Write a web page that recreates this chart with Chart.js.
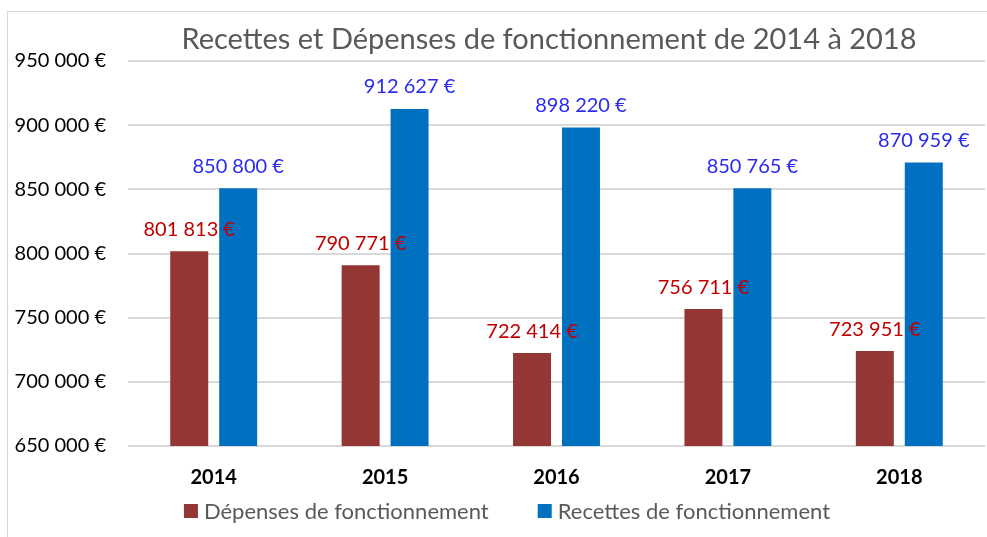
<!DOCTYPE html>
<html>
<head>
<meta charset="utf-8">
<script src="https://cdn.jsdelivr.net/npm/chart.js@4.4.1/dist/chart.umd.min.js"></script>
<style>
  html, body { margin: 0; padding: 0; background: #fff; }
  #wrap { position: relative; width: 987px; height: 537px; overflow: hidden; }
  #frame { position: absolute; left: 7px; top: 11px; width: 1200px; height: 800px; border: 1px solid #d9d9d9; }
  canvas { position: absolute; left: 0; top: 0; }
</style>
</head>
<body>
<div id="wrap">
  <div id="frame"></div>
  <canvas id="myChart" width="987" height="537"></canvas>
</div>
<script>
const years = ['2014', '2015', '2016', '2017', '2018']
const depenses = [801813, 790771, 722414, 756711, 723951]
const recettes = [850800, 912627, 898220, 850765, 870959]
const yMin = 650000
const yMax = 950000
const yStep = 50000
const titleText = 'Recettes et Dépenses de fonctionnement de 2014 à 2018'

const font = 'Lato, "Open Sans", sans-serif'

// 950 000 € style
const euro = v => String(Math.round(v)).replace(/\B(?=(\d{3})+(?!\d))/g, ' ') + ' €'

const labelColors = ['#c00000', '#2a2af0']

// value labels above bars + title + legend, drawn by hand to match Excel spacing
const extras = {
  id: 'extras',
  afterDatasetsDraw: chart => {
    let ctx = chart.ctx
    ctx.save()
    ctx.font = '20px ' + font
    ctx.textAlign = 'center'
    ctx.textBaseline = 'middle'
    chart.data.datasets.forEach((ds, i) => {
      let meta = chart.getDatasetMeta(i)
      meta.data.forEach((bar, j) => {
        ctx.fillStyle = labelColors[i]
        ctx.fillText(euro(ds.data[j]), bar.x, bar.y - 22)
      })
    })

    // title
    ctx.fillStyle = '#595959'
    ctx.font = '29px ' + font
    ctx.fillText(titleText, 549, 40)

    // legend
    ctx.font = '22px ' + font
    ctx.textAlign = 'left'
    let items = chart.data.datasets.map(ds => ({ text: ds.label, color: ds.backgroundColor, w: ctx.measureText(ds.label).width }))
    let total = items.reduce((a, it) => a + 14 + 6 + it.w, 0) + 49 * (items.length - 1)
    let x = 507 - total / 2
    items.forEach(it => {
      ctx.fillStyle = it.color
      ctx.fillRect(x, 504, 14, 14)
      ctx.fillStyle = '#595959'
      ctx.fillText(it.text, x + 20, 512)
      x += 20 + it.w + 49
    })
    ctx.restore()
  }
}

new Chart('myChart', {
  type: 'bar',
  plugins: [extras],
  data: {
    labels: years,
    datasets: [
      {
        label: 'Dépenses de fonctionnement',
        data: depenses,
        backgroundColor: '#943634'
      },
      {
        label: 'Recettes de fonctionnement',
        data: recettes,
        backgroundColor: '#0070c0'
      }
    ]
  },
  options: {
    responsive: false,
    animation: false,
    devicePixelRatio: 1,
    categoryPercentage: 0.571,
    barPercentage: 0.776,
    layout: { padding: { left: 0, right: 2, top: 61, bottom: 35 } },
    plugins: {
      title: { display: false },
      legend: { display: false },
      tooltip: { enabled: false }
    },
    scales: {
      x: {
        grid: { display: false },
        border: { display: false },
        ticks: {
          color: '#000',
          font: { family: font, size: 20, weight: 'bold' },
          padding: 12
        }
      },
      y: {
        min: yMin,
        max: yMax,
        afterFit: s => { s.width = 128 },
        grid: { color: '#d9d9d9', lineWidth: 2, drawTicks: false },
        border: { display: false },
        ticks: {
          stepSize: yStep,
          color: '#000',
          font: { family: font, size: 20 },
          padding: 22,
          callback: v => euro(v)
        }
      }
    }
  }
})
</script>
</body>
</html>
